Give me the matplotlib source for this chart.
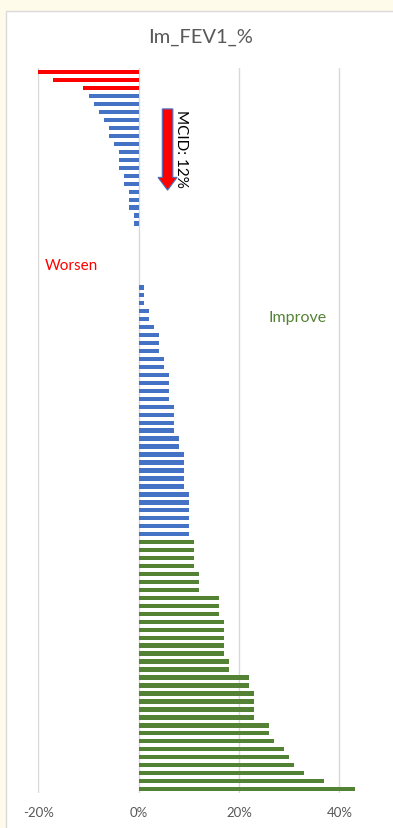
import matplotlib.pyplot as plt
from matplotlib.patches import FancyArrow, Rectangle
import numpy as np

plt.rcParams['font.family'] = ['Lato', 'DejaVu Sans']

# change in FEV1 (%) per patient, sorted from worst to best
worse = [-20, -17, -11, -10, -9, -8, -7, -6, -6, -5, -4, -4, -4, -3, -3, -2, -2, -2, -1, -1]
no_change = [0, 0, 0, 0, 0, 0, 0]
better = [1, 1, 1, 2, 2, 3, 4, 4, 4, 5, 5, 6, 6, 6, 6, 7, 7, 7, 7, 8, 8,
          9, 9, 9, 9, 9, 10, 10, 10, 10, 10, 10,
          11, 11, 11, 11, 12, 12, 12, 16, 16, 16, 17, 17, 17, 17, 17, 18, 18,
          22, 22, 23, 23, 23, 23, 26, 26, 27, 29, 30, 31, 33, 37, 43]
change = np.array(worse + no_change + better)
mcid = 12
xticks = [-20, 0, 20, 40]
xticklabels = ['-20%', '0%', '20%', '40%']

colors = []
for v in change:
    if v < -10:
        colors.append('#FF0000')
    elif v > 10:
        colors.append('#548235')
    else:
        colors.append('#4472C4')

fig = plt.figure(figsize=(3.93, 8.29), dpi=100, facecolor='#FFFBEA')
# white chart area with thin grey border
fig.patches.append(Rectangle((6.5 / 393, -0.01), 1.0, 1 - 11.5 / 829 + 0.01,
                             transform=fig.transFigure, facecolor='white',
                             edgecolor='#D9D9D9', linewidth=1.0, zorder=-10))

ax = fig.add_axes([0.0975, 0.0422, 0.894, 0.8742])
ax.set_facecolor('none')
rows = np.arange(len(change))
ax.barh(rows, change, height=0.55, color=colors, zorder=3)

ax.set_xlim(-20, 50)
ax.set_ylim(len(change) - 0.5, -0.5)
ax.set_xticks(xticks)
ax.set_xticklabels(xticklabels)
ax.set_yticks([])
ax.tick_params(axis='x', length=0, pad=9, labelsize=9.5, labelcolor='#595959')
ax.grid(axis='x', color='#D9D9D9', linewidth=1.0, zorder=0)
for s in ax.spines.values():
    s.set_visible(False)

fig.text(0.51, 0.955, 'Im_FEV1_%', ha='center', va='center', fontsize=14.5, color='#595959')

# MCID arrow
ax.add_patch(FancyArrow(5.75, 4.6, 0, 10.2, width=2.1, head_width=3.8, head_length=1.6,
                        length_includes_head=True, facecolor='#FF0000', edgecolor='#4472C4',
                        linewidth=0.8, zorder=4))
ax.text(8.4, 9.5, 'MCID: %d%%' % mcid, rotation=-90, ha='center', va='center',
        fontsize=11, color='black', zorder=5)

ax.text(-18.7, 24.2, 'Worsen', ha='left', va='center', fontsize=11, color='#FF0000')
ax.text(25.8, 30.7, 'Improve', ha='left', va='center', fontsize=11.5, color='#548235')

fig.savefig('out.png', dpi=100, facecolor=fig.get_facecolor())
